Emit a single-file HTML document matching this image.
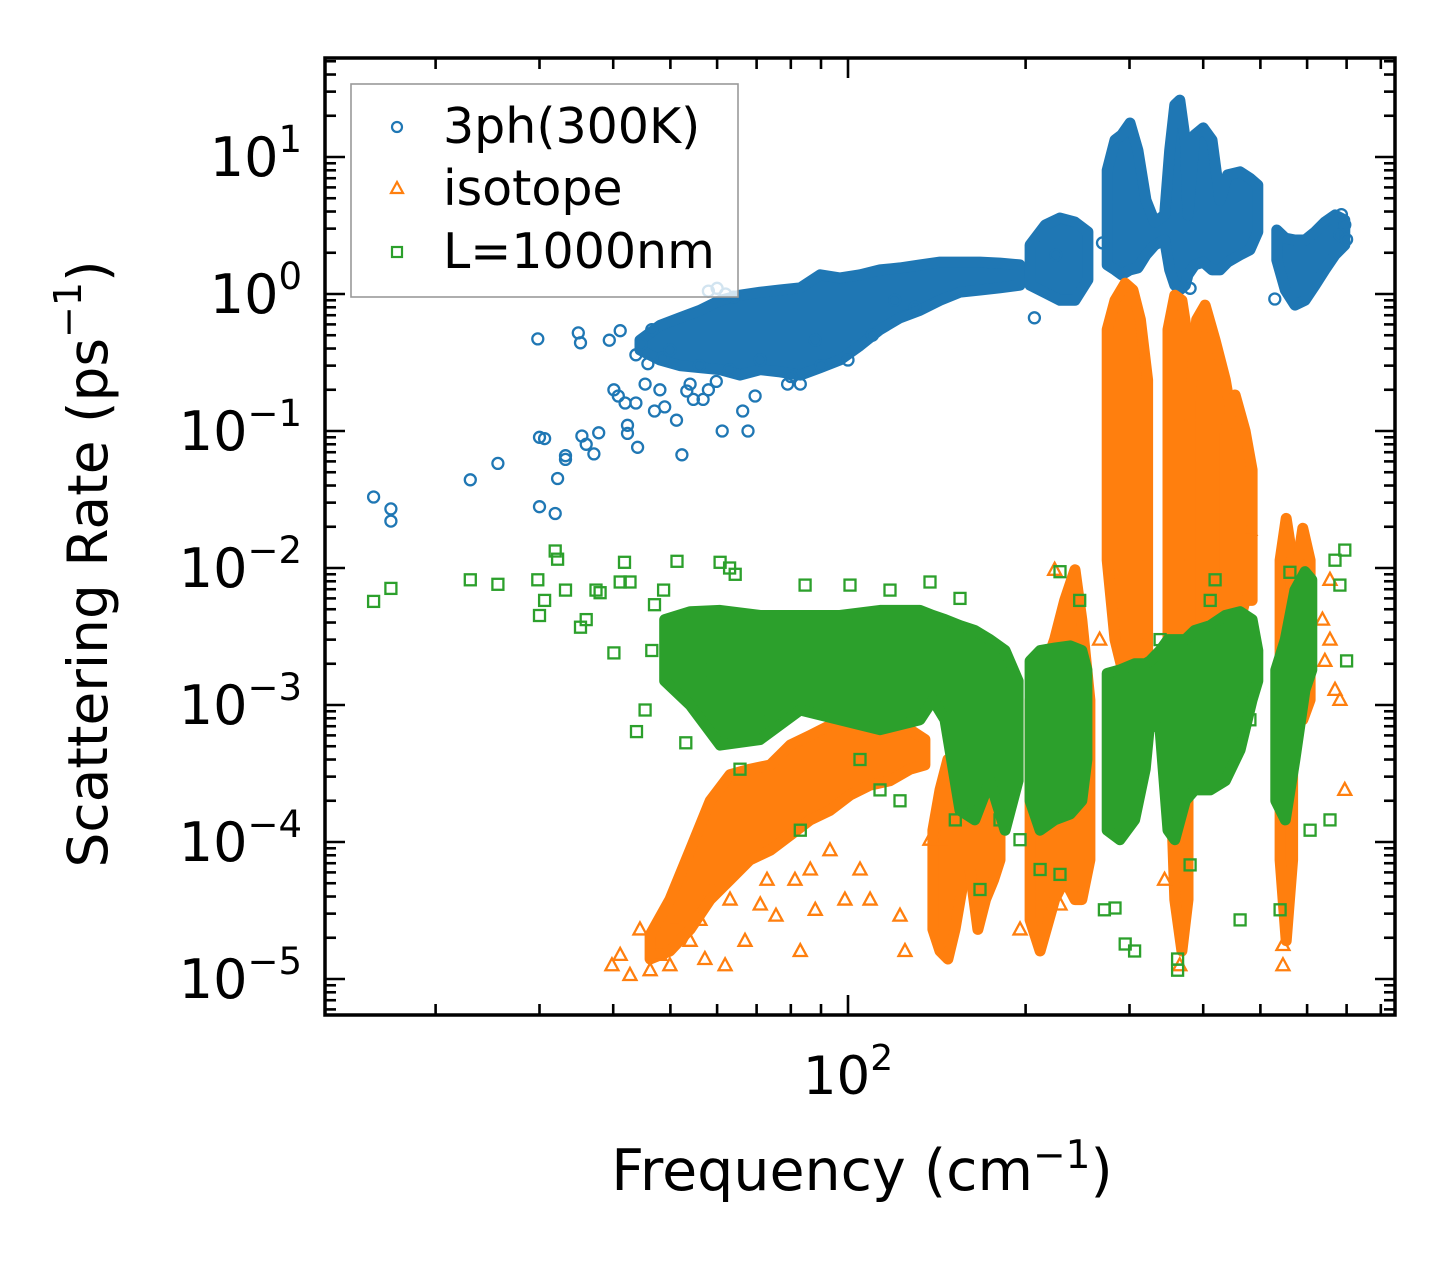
<!DOCTYPE html>
<html>
<head>
<meta charset="utf-8">
<style>
  html,body{margin:0;padding:0;background:#fff;}
  svg{display:block;font-family:"DejaVu Sans","Liberation Sans",sans-serif;}
</style>
</head>
<body>
<svg id="chart" width="1455" height="1265" viewBox="0 0 1455 1265" xmlns="http://www.w3.org/2000/svg">
  <rect x="0" y="0" width="1455" height="1265" fill="#fff"/>
  <defs>
    <clipPath id="plotclip"><rect x="325" y="58" width="1070" height="957"/></clipPath>
  </defs>
  <g id="data-layer" clip-path="url(#plotclip)"></g>
  <g id="axes-layer"></g>
  <g id="legend">
    <rect x="351" y="84" width="387" height="213" fill="#fff" fill-opacity="0.8" stroke="#999" stroke-width="1.6"/>
    <circle cx="397" cy="127" r="5" fill="none" stroke="#1f77b4" stroke-width="2.2"/>
    <text x="443" y="143" font-size="49" fill="#000">3ph(300K)</text>
    <polygon points="397,182 403,193 391,193" fill="none" stroke="#ff7f0e" stroke-width="2.2"/>
    <text x="443" y="205" font-size="49" fill="#000">isotope</text>
    <rect x="392" y="247" width="10" height="10" fill="none" stroke="#2ca02c" stroke-width="2.2"/>
    <text x="443" y="268" font-size="49" fill="#000">L=1000nm</text>
  </g>
  <text x="92" y="564" font-size="55" text-anchor="middle" transform="rotate(-90 92 564)" dominant-baseline="middle">Scattering Rate (ps<tspan font-size="38" dy="-22">−1</tspan><tspan dy="22">)</tspan></text>
  <text x="862" y="1190" font-size="57" text-anchor="middle">Frequency (cm<tspan font-size="39" dy="-22">−1</tspan><tspan dy="22">)</tspan></text>
</svg>
<script>
// ---------- Blue: 3ph(300K) ----------
const blueBandF = [
  [44.4,48.0,51.9,56.1,60.7,65.6,71.0,76.7,83.0,89.7,96.9,104.8,113.3,122.5,132.4,143.2,154.8,167.4,181,195.7],
  [203.5,216,228.7,242.5,255],
  [275,283.5,291,300.6,310,320,331,344,351,358,365,373,377,387,400,414,427,440,462,480,495],
  [533,551,572,595,619,643,669,695]
];
const blueBandHi = [
  [0.46,0.59,0.67,0.76,0.90,0.98,1.03,1.07,1.11,1.38,1.31,1.38,1.5,1.55,1.63,1.71,1.71,1.71,1.68,1.63],
  [2.28,3.19,3.59,3.35,2.84],
  [8.0,13.3,14.5,17.7,11.2,4.85,3.35,3.77,11.2,24,26,13.3,3.77,14.5,16.3,13.3,4.85,7.4,7.8,7.0,6.25],
  [2.93,2.56,2.48,2.48,2.84,3.35,3.77,3.47]
];
const blueBandLo = [
  [0.39,0.33,0.30,0.29,0.28,0.256,0.28,0.27,0.256,0.29,0.33,0.42,0.55,0.67,0.76,0.90,1.03,1.07,1.11,1.16],
  [1.16,1.02,0.90,0.90,1.27],
  [1.63,1.5,1.38,1.5,1.55,1.93,2.28,2.48,1.5,1.16,1.07,1.16,1.38,1.63,1.71,1.5,1.5,1.71,1.93,2.1,2.84],
  [1.77,1.07,0.83,0.90,1.16,1.5,1.93,2.28]
];
const blueF = [15.7,16.8,16.8,22.9,25.5,29.8,30,30.6,30,31.9,32.2,33.2,33.2,34.9,35.2,35.4,36,37.1,37.8,39.4,40.1,40.8,41.1,41.9,42.3,42.3,43.7,43.7,44,44.6,45.3,45.8,46.5,47,48,48.5,48.9,49.9,51.2,52.3,53.3,54,54.7,56,56.8,58,59.8,61.2,63,66.3,67.7,69.6,71,83,88,207,270,225,380,529,682,700,695,686,58,60,62,64,79,80,90,100,110,120,130];
const blueR = [0.033,0.027,0.022,0.044,0.058,0.47,0.09,0.088,0.028,0.025,0.045,0.066,0.062,0.52,0.44,0.092,0.08,0.068,0.097,0.46,0.2,0.18,0.54,0.16,0.11,0.096,0.36,0.16,0.076,0.43,0.22,0.31,0.55,0.14,0.2,0.34,0.15,0.39,0.12,0.067,0.196,0.22,0.17,0.3,0.17,0.2,0.23,0.1,0.28,0.14,0.1,0.18,0.33,0.22,0.46,0.67,2.36,1.93,1.1,0.92,2.7,2.5,3.2,3.8,1.05,1.1,1.0,0.95,0.22,0.25,0.3,0.33,0.5,0.9,0.8];

// ---------- Orange: isotope ----------
const orangeBandF = [
  [46.2,49.9,54.0,58.4,63.1,68.2,73.8,79.8,86.3,93.2,100.8,109,117.8,127.4,135],
  [139.3,143.2,147.7,151.8,156],
  [161,166,171,176.5,181],
  [203.5,211.6,224,233,242.5,249,257],
  [275,283.5,295,304,313,322],
  [348.6,358,368,377],
  [380,390,403,419,436,448],
  [436,453,471,484],
  [540,553,567],
  [579,590,607]
];
const orangeBandHi = [
  [2.1e-5,3.8e-5,8.7e-5,2.0e-4,3.1e-4,3.4e-4,3.65e-4,5.1e-4,6.0e-4,7.1e-4,7.8e-4,7.8e-4,7.1e-4,6.6e-4,5.6e-4],
  [1.22e-4,2.4e-4,4.0e-4,2.8e-4,1.45e-4],
  [2.0e-4,5.1e-4,6.6e-4,4.0e-4,2.0e-4],
  [1.09e-3,1.5e-3,3.0e-3,5.8e-3,9.7e-3,4.2e-3,1.09e-3],
  [0.55,0.90,1.2,1.07,0.65,0.236],
  [0.55,0.98,0.9,0.46],
  [0.168,0.65,0.83,0.46,0.236,0.12],
  [0.1,0.183,0.1,0.052],
  [0.0114,0.023,0.0114],
  [0.0114,0.0195,0.0114]
];
const orangeBandLo = [
  [1.4e-5,1.6e-5,2.3e-5,3.8e-5,5.3e-5,7.4e-5,8.7e-5,1.12e-4,1.45e-4,1.7e-4,2.2e-4,2.6e-4,2.8e-4,3.4e-4,3.65e-4],
  [2.3e-5,1.6e-5,1.4e-5,2.3e-5,4.5e-5],
  [6.3e-5,2.3e-5,3.8e-5,5.3e-5,7.4e-5],
  [2.7e-5,1.6e-5,3.8e-5,5.3e-5,3.8e-5,3.8e-5,7.4e-5],
  [0.0114,0.003,0.0015,0.00109,0.0015,0.0021],
  [1.09e-3,3.8e-5,1.6e-5,3.8e-5],
  [0.0015,7.8e-4,1.09e-3,0.003,0.0058,0.0114],
  [0.0042,0.003,0.0058,0.0058],
  [7.4e-5,1.9e-5,7.4e-5],
  [1.09e-3,7.8e-4,1.09e-3]
];
const orangeF = [39.8,41.1,42.7,44.4,46.2,48,49.9,50.9,54,56.1,57.2,58.8,61.9,63.1,66.9,71,72.9,75.5,81.3,83,86.3,88,93.2,98.8,104.8,109,122.5,124.9,137.7,143.2,195.7,228.7,267,300.6,344,365,395,480,643,656,669,682,637,695,656,546,546,338,224,161,171];
const orangeR = [1.26e-5,1.5e-5,1.07e-5,2.3e-5,1.16e-5,1.5e-5,1.26e-5,2.7e-5,1.9e-5,2.7e-5,1.4e-5,4.5e-5,1.26e-5,3.8e-5,1.9e-5,3.5e-5,5.3e-5,2.9e-5,5.3e-5,1.6e-5,6.3e-5,3.2e-5,8.7e-5,3.8e-5,6.3e-5,3.8e-5,2.9e-5,1.6e-5,1.04e-4,1.04e-4,2.3e-5,3.5e-5,0.003,4.7e-4,5.3e-5,1.26e-5,4.0e-4,0.019,0.0021,0.003,1.29e-3,1.09e-3,0.0042,2.4e-4,0.0082,1.26e-5,1.77e-5,1.09e-3,0.0097,6.6e-4,1.09e-3];

// ---------- Green: L=1000nm ----------
const greenBandF = [
  [48.9,54,60.7,71,83,96.9,113.3,132.4,139.3,146,154.8,164,174,184.6,194.2],
  [203.5,211.6,224,238,249,254],
  [275,289,306,319,325,338,348.6,358,373,387,411,436,462,484,495],
  [531,551,572,595,611]
];
const greenBandHi = [
  [0.0042,0.0048,0.0049,0.0045,0.0045,0.0045,0.0049,0.0049,0.0045,0.0042,0.0038,0.0035,0.003,0.0025,0.0015],
  [0.0021,0.0025,0.0026,0.0027,0.0025,0.0018],
  [0.0017,0.0018,0.002,0.002,0.0021,0.0025,0.003,0.003,0.003,0.0035,0.0038,0.0045,0.0048,0.0042,0.0025],
  [0.0018,0.003,0.0069,0.0094,0.0082]
];
const greenBandLo = [
  [0.0015,0.001,5.1e-4,5.6e-4,9.2e-4,7.8e-4,6.6e-4,7.8e-4,1.09e-3,7.8e-4,1.7e-4,1.45e-4,2.8e-4,1.22e-4,2.8e-4],
  [2e-4,1.22e-4,1.45e-4,1.6e-4,2e-4,4e-4],
  [1.22e-4,1.04e-4,1.45e-4,3.4e-4,7.8e-4,6.6e-4,1.22e-4,1.04e-4,2e-4,2.4e-4,2.4e-4,2.8e-4,4.7e-4,1.09e-3,1.5e-3],
  [2e-4,1.45e-4,4e-4,1.29e-3,1.8e-3]
];
const greenF = [15.7,16.8,22.9,25.5,29.8,30,30.6,31.9,32.2,33.2,35.2,36,37.4,38,40.1,41.1,41.8,42.7,43.8,45.3,46.5,47,48.7,51.3,53.1,54,56.1,60.7,63,64.4,71,84.6,100.8,117.8,137.7,154.8,181,228.7,247,283.5,295,306,338,380,362,362,462,561,682,700,656,695,669,411,419,272,228.7,540,195.7,211.6,167.4,152,122.5,113.3,104.8,83,65.6,480,607];
const greenR = [0.0057,0.0071,0.0082,0.0076,0.0082,0.0045,0.0058,0.0133,0.0116,0.0069,0.0037,0.0042,0.0069,0.0066,0.0024,0.0079,0.011,0.0079,6.4e-4,9.2e-4,0.0025,0.0054,0.0069,0.0112,5.3e-4,0.0011,0.0018,0.011,0.01,0.009,7.8e-4,0.0075,0.0075,0.0069,0.0079,0.006,1.45e-4,0.0094,0.0058,3.3e-5,1.8e-5,1.6e-5,0.003,6.8e-5,1.4e-5,1.16e-5,2.7e-5,0.0093,0.0075,0.0021,1.45e-4,0.0135,0.0114,0.0058,0.0082,3.2e-5,5.8e-5,3.2e-5,1.04e-4,6.3e-5,4.5e-5,1.45e-4,2e-4,2.4e-4,4e-4,1.22e-4,3.4e-4,7.8e-4,1.22e-4];

// ---------- Axis tick data ----------
const yMajorExp = [1,0,-1,-2,-3,-4,-5];
const xMajorVals = [100];
const xMajorExp = [2];

// ---------- Scales ----------
const X0 = 848, XD = 590, Y0 = 294, YD = 137;
const PL = 325, PR = 1395, PT = 58, PB = 1015;
function xs(f){ return X0 + XD*Math.log10(f/100); }
function ys(r){ return Y0 - YD*Math.log10(r); }

const NS = 'http://www.w3.org/2000/svg';
const dataLayer = document.getElementById('data-layer');
const axesLayer = document.getElementById('axes-layer');

function mk(tag, attrs, parent){
  const el = document.createElementNS(NS, tag);
  for (const k in attrs) el.setAttribute(k, attrs[k]);
  parent.appendChild(el);
  return el;
}

function drawBands(F, HI, LO, color, name, parent){
  for (let b=0; b<F.length; b++){
    const pts = [];
    for (let i=0;i<F[b].length;i++) pts.push(xs(F[b][i]).toFixed(1)+','+ys(HI[b][i]).toFixed(1));
    for (let i=F[b].length-1;i>=0;i--) pts.push(xs(F[b][i]).toFixed(1)+','+ys(LO[b][i]).toFixed(1));
    const p = mk('polygon', {points: pts.join(' '), fill: color, stroke: color, 'stroke-width': 11, 'stroke-linejoin':'round'}, parent);
    
    
  }
}

function drawMarkers(F, R, shape, color, name, parent){
  for (let i=0;i<F.length;i++){
    const cx = xs(F[i]), cy = ys(R[i]);
    let el;
    if (shape==='circle'){
      el = mk('circle', {cx:cx.toFixed(1), cy:cy.toFixed(1), r:5.5, fill:'none', stroke:color, 'stroke-width':2.3}, parent);
    } else if (shape==='triangle'){
      const pts = [cx+','+(cy-7), (cx+6.5)+','+(cy+5), (cx-6.5)+','+(cy+5)].join(' ');
      el = mk('polygon', {points:pts, fill:'none', stroke:color, 'stroke-width':2.3}, parent);
    } else {
      el = mk('rect', {x:(cx-5.5).toFixed(1), y:(cy-5.5).toFixed(1), width:11, height:11, fill:'none', stroke:color, 'stroke-width':2.3}, parent);
    }
    
    
  }
}

const gBlue = mk('g', {}, dataLayer);


drawBands(blueBandF, blueBandHi, blueBandLo, '#1f77b4', '3ph', gBlue);
drawMarkers(blueF, blueR, 'circle', '#1f77b4', '3ph', gBlue);

const gOrange = mk('g', {}, dataLayer);


drawBands(orangeBandF, orangeBandHi, orangeBandLo, '#ff7f0e', 'isotope', gOrange);
drawMarkers(orangeF, orangeR, 'triangle', '#ff7f0e', 'isotope', gOrange);

const gGreen = mk('g', {}, dataLayer);


drawBands(greenBandF, greenBandHi, greenBandLo, '#2ca02c', 'boundary', gGreen);
drawMarkers(greenF, greenR, 'square', '#2ca02c', 'boundary', gGreen);

// ---------- Axes ----------
const frame = mk('rect', {x:PL, y:PT, width:PR-PL, height:PB-PT, fill:'none', stroke:'#000', 'stroke-width':3.5}, axesLayer);



function tickLine(x1,y1,x2,y2,name){
  const l = mk('line', {x1:x1, y1:y1, x2:x2, y2:y2, stroke:'#000', 'stroke-width':2.6}, axesLayer);
  
  
}

for (let e=-6; e<=1; e++){
  for (let k=1;k<=9;k++){
    const v = k*Math.pow(10,e);
    const y = ys(v);
    if (y < PT+1 || y > PB-1) continue;
    const len = (k===1) ? 20 : 11;
    tickLine(PL, y, PL+len, y, k===1 ? 'y-major-tick' : 'y-minor-tick');
    tickLine(PR, y, PR-len, y, k===1 ? 'y-major-tick' : 'y-minor-tick');
  }
}
for (let e=1; e<=2; e++){
  for (let k=1;k<=9;k++){
    const v = k*Math.pow(10,e);
    const x = xs(v);
    if (x < PL+1 || x > PR-1) continue;
    const len = (k===1) ? 20 : 11;
    tickLine(x, PB, x, PB-len, k===1 ? 'x-major-tick' : 'x-minor-tick');
    tickLine(x, PT, x, PT+len, k===1 ? 'x-major-tick' : 'x-minor-tick');
  }
}

for (let i=0;i<yMajorExp.length;i++){
  const e = yMajorExp[i];
  const y = ys(Math.pow(10,e));
  const t = mk('text', {x:302, y:(y+19).toFixed(1), 'font-size':54, 'text-anchor':'end', fill:'#000'}, axesLayer);
  
  
  const a = mk('tspan', {}, t); a.textContent = '10';
  const s = mk('tspan', {'font-size':37, dy:-24}, t); s.textContent = (e<0 ? '−'+(-e) : String(e));
}
for (let i=0;i<xMajorVals.length;i++){
  const x = xs(xMajorVals[i]);
  const t = mk('text', {x:(x).toFixed(1), y:1094, 'font-size':53, 'text-anchor':'middle', fill:'#000'}, axesLayer);
  
  
  const a = mk('tspan', {}, t); a.textContent = '10';
  const s = mk('tspan', {'font-size':36, dy:-24}, t); s.textContent = String(xMajorExp[i]);
}
</script>
</body>
</html>
